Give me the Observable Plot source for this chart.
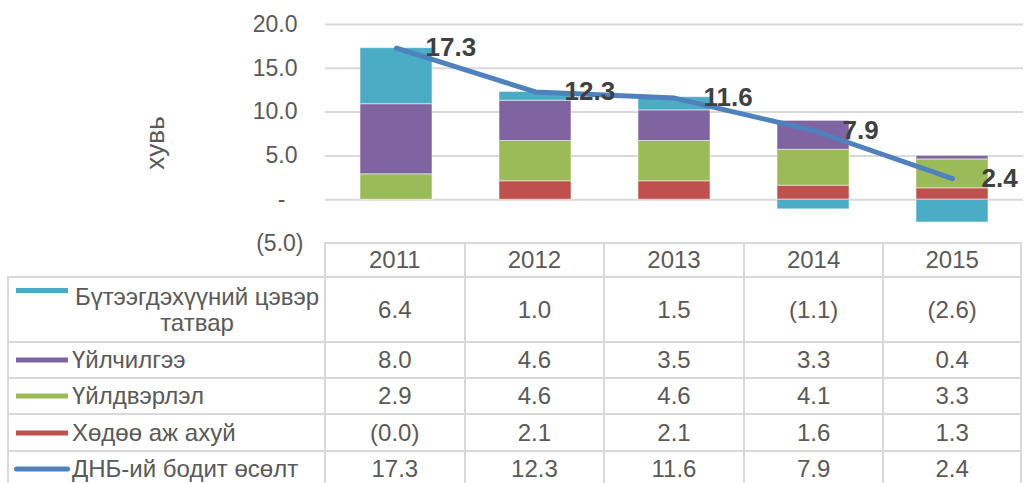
<!DOCTYPE html>
<html><head><meta charset="utf-8">
<script src="https://cdn.jsdelivr.net/npm/d3@7"></script>
<script src="https://cdn.jsdelivr.net/npm/@observablehq/plot@0.6"></script>
<style>
html,body{margin:0;padding:0;background:#fff;}
#wrap{position:relative;width:1030px;height:483px;overflow:hidden;font-family:"Liberation Sans",Arial,"DejaVu Sans",sans-serif;color:#595959;}
#chart{position:absolute;left:0;top:0;z-index:2;}
#table{position:absolute;left:7px;top:242px;display:grid;z-index:1;}
.c{box-sizing:border-box;border-left:2px solid #d9d9d9;border-top:2px solid #d9d9d9;display:flex;align-items:center;justify-content:center;font-size:24px;color:#595959;white-space:nowrap;}
.c.last{border-right:2px solid #d9d9d9;}
.c.blank{border:none;}
.c.lab{justify-content:flex-start;position:relative;padding-left:63px;white-space:normal;}
.lab .t{width:fit-content;max-width:250px;text-align:center;line-height:1.05;}
.sw{position:absolute;left:7px;width:52px;height:5px;top:50%;transform:translateY(-50%);}
.sw.top{top:10px;transform:none;}
.sw.line{left:5px;width:56px;border-radius:3px;}
</style>
</head><body>
<div id="wrap"><div id="chart"></div><div id="table"></div></div>
<script>
const years = ["2011", "2012", "2013", "2014", "2015"];
const seriesNames = ["Бүтээгдэхүүний цэвэр татвар", "Үйлчилгээ", "Үйлдвэрлэл", "Хөдөө аж ахуй"];
const lineName = "ДНБ-ий бодит өсөлт";
const taxes = [6.4, 1.0, 1.5, -1.1, -2.6];
const services = [8.0, 4.6, 3.5, 3.3, 0.4];
const industry = [2.9, 4.6, 4.6, 4.1, 3.3];
const agriculture = [-0.02, 2.1, 2.1, 1.6, 1.3];
const gdp = [17.3, 12.3, 11.6, 7.9, 2.4];
const yTicks = [-5, 0, 5, 10, 15, 20];
const seriesColors = ["#4BACC6", "#8064A2", "#9BBB59", "#C0504D"];
const lineColor = "#4F81BD";

const seriesValues = [taxes, services, industry, agriculture];
// stacking order bottom->top: agriculture, industry, services, taxes
const barData = [];
years.forEach((yr, i) => {
  [3, 2, 1, 0].forEach(s => barData.push({year: yr, series: seriesNames[s], value: seriesValues[s][i]}));
});
const lineData = years.map((yr, i) => ({year: yr, value: gdp[i]}));

const fmt = v => v < 0 ? `(${Math.abs(v).toFixed(1)})` : v.toFixed(1);
const font = "'Liberation Sans', Arial, 'DejaVu Sans', sans-serif";

const chart = Plot.plot({
  width: 1030,
  height: 244,
  marginLeft: 325,
  marginRight: 7,
  marginTop: 24,
  marginBottom: 1,
  style: {overflow: "visible", background: "transparent", fontFamily: font, color: "#595959"},
  x: {domain: years, paddingInner: 0.484, paddingOuter: 0.242, axis: null},
  y: {domain: [-5, 20], axis: null},
  color: {domain: seriesNames, range: seriesColors},
  marks: [
    Plot.gridY(yTicks.filter(d => d >= 0), {stroke: "#d9d9d9", strokeOpacity: 1, strokeWidth: 2}),
    Plot.barY(barData, {x: "year", y: "value", fill: "series", stroke: "#ffffff", strokeOpacity: 0.5, strokeWidth: 1}),
    Plot.line(lineData, {x: "year", y: "value", stroke: lineColor, strokeWidth: 5, strokeLinecap: "round", strokeLinejoin: "round"}),
    Plot.text(lineData, {x: "year", y: "value", text: d => d.value.toFixed(1), textAnchor: "start", dx: 29, fontSize: 26, fontWeight: "bold", fill: "#404040"}),
    Plot.axisY(yTicks.filter(d => d > 0), {tickSize: 0, tickPadding: 28, tickFormat: d => d.toFixed(1), fontSize: 23, fill: "#595959", label: null}),
    Plot.axisY(yTicks.filter(d => d === 0), {tickSize: 0, tickPadding: 40, tickFormat: () => "-", fontSize: 23, fill: "#595959", label: null}),
    Plot.axisY(yTicks.filter(d => d < 0), {tickSize: 0, tickPadding: 22, tickFormat: fmt, fontSize: 23, fill: "#595959", label: null}),
    Plot.text(["хувь"], {text: d => d, frameAnchor: "left", textAnchor: "middle", dx: -170, dy: 9, rotate: -90, fontSize: 26, fill: "#595959"})
  ]
});
document.getElementById("chart").appendChild(chart);

// data table aligned with the chart's x scale
const xs = chart.scale("x");
const colW = (xs.range[1] - xs.range[0]) / years.length;
const tbl = document.getElementById("table");
const firstW = xs.range[0] - 1 - 7;
tbl.style.gridTemplateColumns = `${firstW}px repeat(${years.length}, ${colW}px)`;
tbl.style.gridTemplateRows = "34px 65px 36px 36px 37px 36px";

function cell(html, cls) {
  const d = document.createElement("div");
  d.className = "c " + (cls || "");
  d.innerHTML = html;
  tbl.appendChild(d);
  return d;
}
cell("", "blank");
years.forEach((y, i) => cell(y, i === years.length - 1 ? "last" : ""));
const rows = seriesNames.map((n, s) => ({name: n, vals: seriesValues[s], color: seriesColors[s], line: false}));
rows.push({name: lineName, vals: gdp, color: lineColor, line: true});
rows.forEach((r, ri) => {
  const lc = cell("", "lab");
  const sw = document.createElement("div");
  sw.className = "sw" + (r.line ? " line" : "") + (ri === 0 ? " top" : "");
  sw.style.background = r.color;
  lc.appendChild(sw);
  const t = document.createElement("div");
  t.className = "t";
  t.textContent = r.name;
  lc.appendChild(t);
  r.vals.forEach((v, i) => cell(fmt(v), i === years.length - 1 ? "last" : ""));
});
</script>
</body></html>
